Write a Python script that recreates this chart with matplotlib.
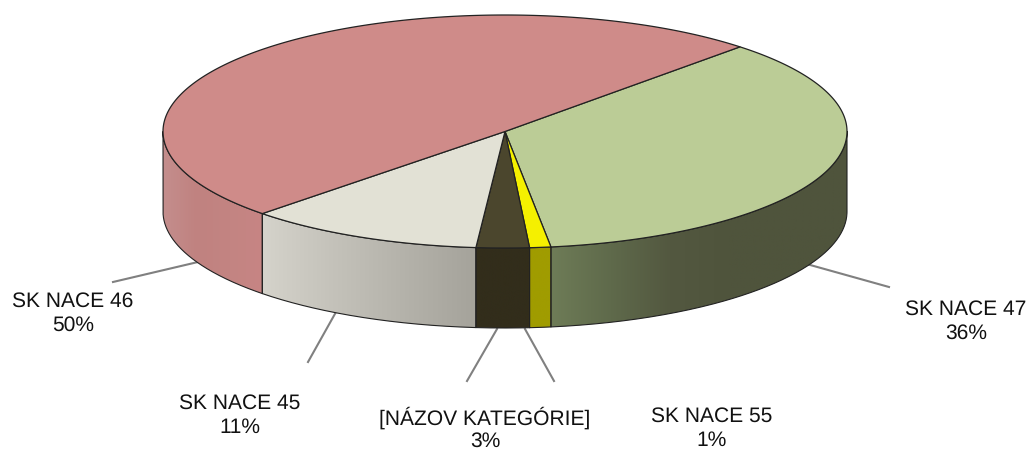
import numpy as np
import matplotlib
matplotlib.use("Agg")
import matplotlib.pyplot as plt
from matplotlib.colors import LinearSegmentedColormap
from matplotlib.patches import Polygon

plt.rcParams["font.family"] = ["Liberation Sans", "DejaVu Sans"]
plt.rcParams["text.hinting"] = "no_hinting"
plt.rcParams["text.hinting_factor"] = 1

# in drawing order, clockwise from the green slice
categories = ["SK NACE 47", "SK NACE 55", "[NÁZOV KATEGÓRIE]", "SK NACE 45", "SK NACE 46"]
values = [35.8, 1.0, 2.5, 11.2, 49.5]
pct_labels = ["36%", "1%", "3%", "11%", "50%"]
top_colors = ["#BBCC96", "#F5F000", "#4B462D", "#E2E1D5", "#CF8B89"]
side_colors = [
    ["#6E7C57", "#5F6A4B", "#535840", "#4F543C", "#4F543C", "#4F543C"],
    ["#A09C00", "#A09C00"],
    ["#322D1B", "#322D1B"],
    ["#D5D3CB", "#C4C2BA", "#B4B2AA", "#A5A39B"],
    ["#C48E8D", "#C08280", "#C38482", "#C78584"],
]
label_pos = [(966, 321), (712, 428), (485, 428.5), (240, 415), (73, 313)]
# the bottom label sits against the edge, so its lines are a bit tighter
label_spacing = [1.3, 1.3, 1.15, 1.3, 1.3]
leaders = [
    ((803, 263), (889, 287)),
    ((525, 329), (554, 381)),
    ((497, 329), (467, 381)),
    ((336, 312), (308, 362)),
    ((198, 262), (113, 282)),
]

CX, CY = 505, 131.5
RX, RY = 342, 116.5
DEPTH = 80
START = -46.6

fig = plt.figure(figsize=(10.31, 4.5), dpi=100)
ax = fig.add_axes([0, 0, 1, 1])
ax.set_xlim(0, 1031)
ax.set_ylim(450, 0)
ax.axis("off")


def rim(a, b, n=200):
    t = np.radians(np.linspace(a, b, n))
    return CX + RX * np.cos(t), CY + RY * np.sin(t)


for (p0, p1) in leaders:
    ax.plot([p0[0], p1[0]], [p0[1], p1[1]], color="#808080", lw=1.5, zorder=1)

edges = START + np.concatenate([[0], np.cumsum(values)]) / sum(values) * 360

# outer wall, only the part facing the viewer
for i in range(len(values)):
    a2, b2 = max(edges[i], 0), min(edges[i + 1], 180)
    x, y = rim(a2, b2)
    pts = np.vstack([np.column_stack([x, y]), np.column_stack([x[::-1], y[::-1] + DEPTH])])
    patch = Polygon(pts, closed=True, fc="none", ec="none", zorder=2)
    ax.add_patch(patch)
    cmap = LinearSegmentedColormap.from_list("side", side_colors[i])
    im = ax.imshow(np.linspace(0, 1, 256).reshape(1, -1), cmap=cmap, aspect="auto",
                   extent=[x.min(), x.max(), y.max() + DEPTH, y.min()], zorder=2)
    im.set_clip_path(patch)
    ax.plot(np.r_[x, x[::-1], x[0]], np.r_[y, y[::-1] + DEPTH, y[0]], color="#222222", lw=0.8, zorder=3)

# top face
for i in range(len(values)):
    x, y = rim(edges[i], edges[i + 1])
    ax.fill(np.r_[CX, x], np.r_[CY, y], fc=top_colors[i], ec="#222222", lw=0.9, joinstyle="round", zorder=4)

ax.set_xlim(0, 1031)
ax.set_ylim(450, 0)

for name, pct, (lx, ly), sp in zip(categories, pct_labels, label_pos, label_spacing):
    ax.text(lx, ly, f"{name}\n{pct}", ha="center", va="center", fontsize=15.4,
            color="#111111", linespacing=sp, zorder=5)

fig.savefig("out.png", dpi=100)
